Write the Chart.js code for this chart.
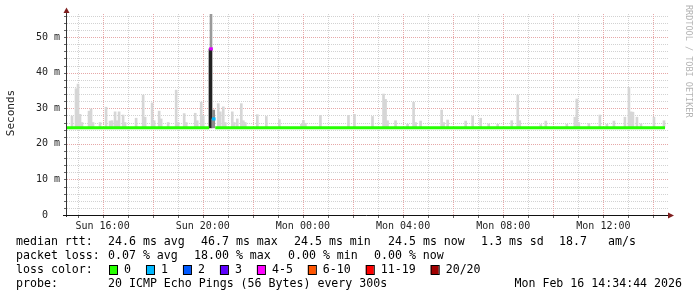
<!DOCTYPE html>
<html lang="en">
<head>
<meta charset="UTF-8">
<title>SmokePing - median rtt</title>
<script src="https://cdn.jsdelivr.net/npm/chart.js"></script>
<style>
  html, body { margin: 0; padding: 0; background: #fff; }
  canvas { display: block; }
</style>
</head>
<body>
<canvas id="rtt" width="697" height="297"></canvas>
<script>
// time is in hours since Sun 00:00, values in milliseconds
const startHour = 14.58;
const endHour = 38.58;
const medianRtt = 24.5;

const tickHours = [16, 20, 24, 28, 32, 36];
const tickLabels = ['Sun 16:00', 'Sun 20:00', 'Mon 00:00', 'Mon 04:00', 'Mon 08:00', 'Mon 12:00'];
const yTicks = [0, 10, 20, 30, 40, 50];

// smoke: top of the ping spread for each 5 min step that sticks out
const smokeHours = [14.78, 14.94, 15.02, 15.10, 15.18, 15.46, 15.54, 15.62, 15.90, 16.14,
  16.30, 16.38, 16.50, 16.58, 16.66, 16.82, 16.90, 17.34, 17.62, 17.70,
  17.98, 18.06, 18.26, 18.34, 18.62, 18.94, 19.02, 19.26, 19.34, 19.70,
  19.78, 19.94, 20.02, 20.62, 20.70, 20.82, 20.90, 21.18, 21.26, 21.38,
  21.54, 21.62, 21.70, 22.18, 22.54, 23.06, 23.94, 24.02, 24.10, 24.70,
  25.82, 26.06, 26.78, 27.22, 27.30, 27.38, 27.70, 28.18, 28.42, 28.50,
  28.70, 29.54, 29.62, 29.78, 30.50, 30.78, 31.10, 31.42, 31.78, 32.34,
  32.58, 32.66, 33.50, 33.70, 34.54, 34.86, 34.94, 35.02, 35.42, 35.86,
  36.14, 36.42, 36.86, 37.02, 37.10, 37.18, 37.34, 37.50, 38.02, 38.42];
const smokeTops = [27.8, 35.5, 36.8, 28.3, 26.0, 29.2, 29.8, 26.0, 26.0, 30.3,
  26.4, 26.5, 29.0, 26.5, 29.0, 28.1, 26.0, 27.2, 33.7, 27.5,
  31.5, 26.5, 29.2, 27.0, 26.0, 35.1, 26.0, 28.5, 26.0, 28.6,
  26.5, 31.7, 28.0, 31.3, 29.0, 30.4, 26.0, 29.0, 26.0, 27.0,
  31.3, 26.5, 26.0, 28.2, 27.7, 26.8, 25.5, 26.6, 25.8, 28.0,
  28.0, 28.3, 27.7, 34.0, 32.5, 26.5, 26.5, 25.5, 31.7, 26.0,
  26.4, 29.5, 26.0, 26.7, 26.4, 27.8, 27.2, 25.6, 25.5, 26.5,
  33.7, 26.5, 25.4, 26.4, 25.5, 27.5, 32.6, 26.0, 25.7, 28.1,
  25.5, 26.4, 27.5, 35.9, 29.0, 28.9, 27.5, 25.6, 27.5, 26.5];

// the lossy steps around 20:20
const spikeHours = [20.31, 20.42];
const spikeMedians = [46.7, 27.0];
const spikeTops = [56.5, 29.5];
const spikeLossColors = ['#dd00ff', '#00b8ff'];

// median line (null = gap where the lossy steps are)
const medianHours = [14.58, 20.26, 20.38, 20.50, 38.46];
const medianValues = [24.5, 24.5, null, 24.5, 24.5];

const lossLabels = ['0', '1', '2', '3', '4-5', '6-10', '11-19', '20/20'];
const lossColors = ['#26ff00', '#00b8ff', '#0059ff', '#5e00ff', '#ff00ff', '#ff5500', '#ff0000', '#a10000'];

const statsRtt = [['median rtt:', 16], ['24.6 ms avg', 108], ['46.7 ms max', 201], ['24.5 ms min', 294],
  ['24.5 ms now', 388], ['1.3 ms sd', 481], ['18.7', 559], ['am/s', 608]];
const statsLoss = [['packet loss:', 16], ['0.07 % avg', 108], ['18.00 % max', 194], ['0.00 % min', 288], ['0.00 % now', 374]];
const probeText = '20 ICMP Echo Pings (56 Bytes) every 300s';
const stampText = 'Mon Feb 16 14:34:44 2026';

const MONO = '"DejaVu Sans Mono", monospace';

const decor = {
  id: 'decor',
  beforeDatasetsDraw(chart) {
    const { ctx, chartArea: a, scales: { x, y } } = chart;
    ctx.save();
    ctx.lineWidth = 1;
    ctx.setLineDash([1, 1]);
    for (let v = 2; v <= 56; v += 2) {
      const py = Math.round(y.getPixelForValue(v)) + 0.5;
      ctx.strokeStyle = v % 10 === 0 ? '#e6a8a8' : '#d2d2d2';
      ctx.beginPath(); ctx.moveTo(a.left, py); ctx.lineTo(a.right, py); ctx.stroke();
    }
    for (let h = 15; h <= 38; h++) {
      const px = Math.round(x.getPixelForValue(h)) + 0.5;
      ctx.strokeStyle = h % 2 === 0 ? '#e6a8a8' : '#d2d2d2';
      ctx.beginPath(); ctx.moveTo(px, a.top); ctx.lineTo(px, a.bottom); ctx.stroke();
    }
    ctx.restore();
  },
  afterDatasetsDraw(chart) {
    const { ctx, chartArea: a, scales: { x, y } } = chart;
    ctx.save();
    ctx.lineWidth = 1;
    // small ticks
    ctx.strokeStyle = '#666';
    for (let v = 2; v <= 56; v += 2) {
      const py = Math.round(y.getPixelForValue(v)) + 0.5;
      ctx.beginPath(); ctx.moveTo(a.left - 3, py); ctx.lineTo(a.left, py); ctx.stroke();
    }
    for (let h = 15; h <= 38; h++) {
      const px = Math.round(x.getPixelForValue(h)) + 0.5;
      ctx.beginPath(); ctx.moveTo(px, a.bottom); ctx.lineTo(px, a.bottom + 3); ctx.stroke();
    }
    // axes
    ctx.strokeStyle = '#333';
    ctx.beginPath(); ctx.moveTo(a.left - 0.5, a.bottom + 2); ctx.lineTo(a.left - 0.5, 10); ctx.stroke();
    ctx.strokeStyle = '#111';
    ctx.beginPath(); ctx.moveTo(a.left - 4, a.bottom + 0.5); ctx.lineTo(a.right + 2, a.bottom + 0.5); ctx.stroke();
    // arrows
    ctx.fillStyle = '#7f1f1f';
    ctx.beginPath(); ctx.moveTo(a.left - 3.5, 13); ctx.lineTo(a.left + 2.5, 13); ctx.lineTo(a.left - 0.5, 7.5); ctx.fill();
    ctx.beginPath(); ctx.moveTo(a.right, a.bottom - 2.5); ctx.lineTo(a.right, a.bottom + 3.5); ctx.lineTo(a.right + 6, a.bottom + 0.5); ctx.fill();
    ctx.restore();
  },
  afterDraw(chart) {
    const { ctx } = chart;
    ctx.save();
    // axis title
    ctx.fillStyle = '#222';
    ctx.font = '11px ' + MONO;
    ctx.textAlign = 'center';
    ctx.textBaseline = 'middle';
    ctx.translate(11, 113);
    ctx.rotate(-Math.PI / 2);
    ctx.fillText('Seconds', 0, 0);
    ctx.restore();

    ctx.save();
    ctx.fillStyle = '#b4b4b4';
    ctx.font = '8.5px ' + MONO;
    ctx.textAlign = 'left';
    ctx.textBaseline = 'middle';
    ctx.translate(688, 5);
    ctx.rotate(Math.PI / 2);
    ctx.fillText('RRDTOOL / TOBI OETIKER', 0, 0);
    ctx.restore();

    // legend
    ctx.save();
    ctx.fillStyle = '#000';
    ctx.font = '11.6px ' + MONO;
    ctx.textBaseline = 'middle';
    ctx.textAlign = 'left';
    statsRtt.forEach(([t, px]) => ctx.fillText(t, px, 242));
    statsLoss.forEach(([t, px]) => ctx.fillText(t, px, 256));
    ctx.fillText('loss color:', 16, 270);
    let bx = 109;
    lossLabels.forEach((lbl, i) => {
      ctx.fillStyle = lossColors[i];
      ctx.fillRect(bx, 265, 8, 9);
      ctx.strokeStyle = '#000';
      ctx.lineWidth = 1;
      ctx.strokeRect(bx + 0.5, 265.5, 8, 9);
      ctx.fillStyle = '#000';
      ctx.fillText(lbl, bx + 15, 270);
      bx = bx + 15 + ctx.measureText(lbl).width + 15;
    });
    ctx.fillText('probe:', 16, 284);
    ctx.fillText(probeText, 108, 284);
    ctx.textAlign = 'right';
    ctx.fillText(stampText, 682, 284);
    ctx.restore();
  }
};

const smokeData = smokeHours.map((h, i) => ({ x: h, y: [medianRtt, smokeTops[i]] }));
const spikeUpper = spikeHours.map((h, i) => ({ x: h + 0.02, y: [spikeMedians[i], spikeTops[i]] }));
const spikeLower = spikeHours.map((h, i) => ({ x: h, y: [medianRtt, spikeMedians[i]] }));
const spikeMarks = spikeHours.map((h, i) => ({ x: h + 0.02, y: [spikeMedians[i] - 0.35, spikeMedians[i] + 0.35] }));
const medianData = medianHours.map((h, i) => ({ x: h, y: medianValues[i] }));

const chart = new Chart(document.getElementById('rtt').getContext('2d'), {
  type: 'bar',
  data: {
    datasets: [
      { label: 'smoke', data: smokeData, backgroundColor: '#d6d6d6', barThickness: 2, grouped: false, order: 5 },
      { label: 'spike spread', data: spikeUpper, backgroundColor: ['#9a9a9a', '#8c8c8c'], barThickness: 2, grouped: false, order: 4 },
      { label: 'spike median', data: spikeLower, backgroundColor: ['#222', '#8c8c8c'], barThickness: 3, grouped: false, order: 3 },
      { label: 'loss', data: spikeMarks, backgroundColor: spikeLossColors, barThickness: 3, grouped: false, order: 1 },
      {
        type: 'line', label: 'median rtt', data: medianData,
        borderColor: '#26ff00', borderWidth: 3, pointRadius: 0, spanGaps: false, order: 2
      }
    ]
  },
  options: {
    responsive: false,
    animation: false,
    layout: { padding: { left: 0, right: 29, top: 14, bottom: 60 } },
    plugins: { legend: { display: false }, tooltip: { enabled: false } },
    scales: {
      x: {
        type: 'linear',
        min: startHour,
        max: endHour,
        offset: false,
        grid: { display: false, drawTicks: false },
        border: { display: false },
        afterBuildTicks: s => { s.ticks = tickHours.map(v => ({ value: v })); },
        afterFit: s => { s.height = 22; },
        ticks: {
          autoSkip: false, maxRotation: 0, padding: 5, color: '#222',
          font: { family: 'DejaVu Sans Mono', size: 10 },
          callback: (v, i) => tickLabels[i]
        }
      },
      y: {
        min: 0,
        max: 56.5,
        grid: { display: false, drawTicks: false },
        border: { display: false },
        afterBuildTicks: s => { s.ticks = yTicks.map(v => ({ value: v })); },
        afterFit: s => { s.width = 67; },
        ticks: {
          padding: 7, color: '#222',
          font: { family: 'DejaVu Sans Mono', size: 10 },
          callback: v => v === 0 ? '0  ' : v + ' m'
        }
      }
    }
  },
  plugins: [decor]
});
</script>
</body>
</html>
